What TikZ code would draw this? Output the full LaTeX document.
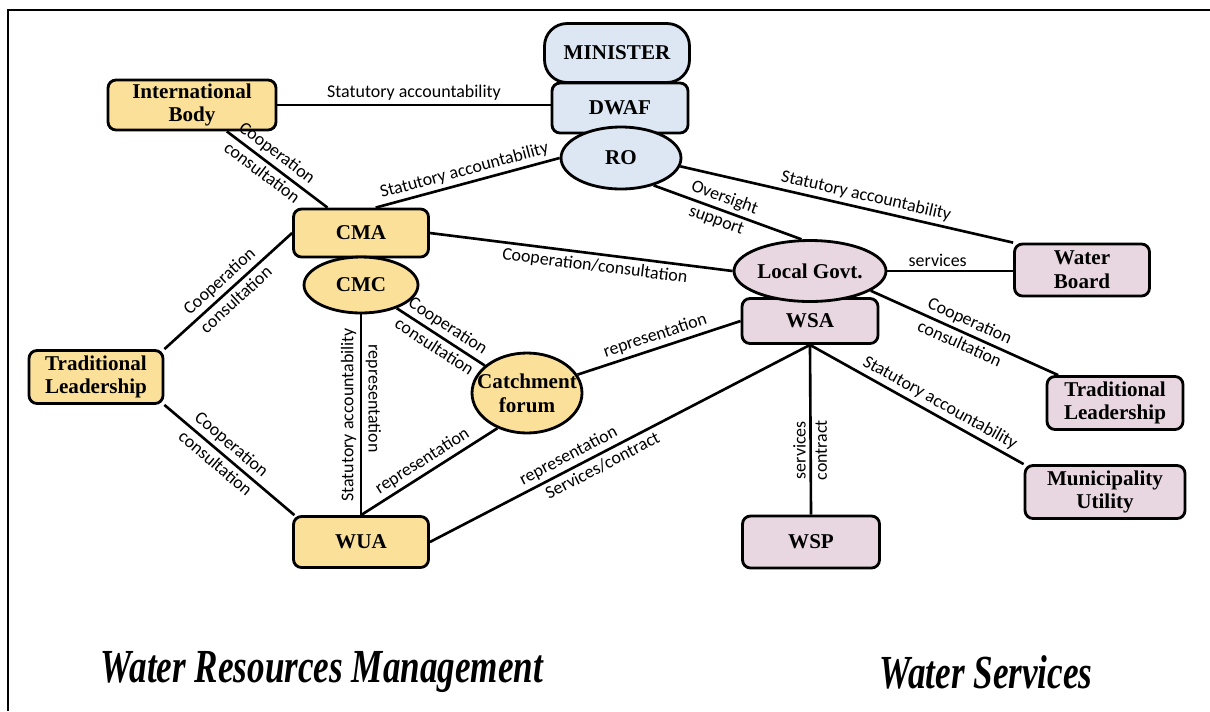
\documentclass[tikz,border=0pt]{standalone}
\usepackage{graphicx}
\usepackage{fontspec}
\setmainfont{Liberation Serif}
\newfontfamily\lblfont{Carlito}
\usetikzlibrary{shapes.geometric}
\definecolor{wyellow}{RGB}{250,224,152}
\definecolor{wblue}{RGB}{220,231,243}
\definecolor{wpink}{RGB}{232,215,225}

\begin{document}
\begin{tikzpicture}[x=0.02cm,y=-0.02cm,
  box/.style={rectangle,rounded corners=0.16cm,draw,line width=1.6pt,inner sep=1pt,align=center,
    font=\fontsize{12}{13.5}\selectfont\bfseries},
  ell/.style={ellipse,draw,line width=1.6pt,inner sep=0pt,align=center,
    font=\fontsize{12}{13.5}\selectfont\bfseries},
  yf/.style={fill=wyellow},
  bf/.style={fill=wblue},
  pf/.style={fill=wpink},
  ln/.style={line width=1.5pt},
  lbl/.style={font=\lblfont\fontsize{10.2}{11.5}\selectfont,inner sep=2pt},
  ttl/.style={font=\fontsize{27}{27}\selectfont\bfseries\itshape},
]
\useasboundingbox (0,0) rectangle (1210,711);
\draw[line width=1.7pt] (1210,10) -- (8,10) -- (8,711);

% ---------------- ministry (blue) ----------------
\node[box,bf,rounded corners=0.45cm,minimum width=2.9cm,minimum height=1.18cm] (min) at (617,53) {MINISTER};
\node[box,bf,minimum width=2.72cm,minimum height=1.0cm] (dwaf) at (620,108) {DWAF};
\node[ell,bf,minimum width=2.4cm,minimum height=1.24cm] (ro) at (621,158) {RO};

% ---------------- water resources (yellow) ----------------
\node[box,yf,minimum width=3.36cm,minimum height=1.0cm] (ib) at (192,105) {International\\Body};
\node[box,yf,minimum width=2.7cm,minimum height=0.96cm] (cma) at (361,233) {CMA};
\node[ell,yf,minimum width=2.28cm,minimum height=1.12cm] (cmc) at (361,285) {CMC};
\node[box,yf,minimum width=2.68cm,minimum height=1.06cm] (tll) at (96,377) {Traditional\\Leadership};
\node[ell,yf,minimum width=2.2cm,minimum height=1.6cm] (cf) at (527,393) {\makebox[0pt]{Catchment}\\\makebox[0pt]{forum}};
\node[box,yf,minimum width=2.7cm,minimum height=1.02cm] (wua) at (361,542) {WUA};

% ---------------- water services (pink) ----------------
\node[box,pf,minimum width=2.72cm,minimum height=0.9cm] (wsa) at (810,321) {WSA};
\node[ell,pf,minimum width=3.04cm,minimum height=1.22cm] (lg) at (810,271) {Local Govt.};
\node[box,pf,minimum width=2.7cm,minimum height=1.04cm] (wb) at (1082,270) {Water\\Board};
\node[box,pf,minimum width=2.72cm,minimum height=1.06cm] (tlr) at (1115,403) {Traditional\\Leadership};
\node[box,pf,minimum width=3.2cm,minimum height=1.06cm] (muni) at (1105,492) {Municipality\\Utility};
\node[box,pf,minimum width=2.74cm,minimum height=1.04cm] (wsp) at (811,542) {WSP};

% ---------------- links ----------------
\draw[ln] (ib.east) -- (ib.east -| dwaf.west) node[lbl,midway,above] {Statutory accountability};
\draw[ln] (ib) -- (cma) node[lbl,sloped,pos=0.42,above] {Cooperation} node[lbl,sloped,pos=0.42,below] {consultation};
\draw[ln] (cma.60) -- (ro.west) node[lbl,sloped,midway,above] {Statutory accountability};
\draw[ln] (ro.-8) -- (wb.north west) node[lbl,sloped,pos=0.55,above] {Statutory accountability};
\draw[ln] (ro.-40) -- (lg.105) node[lbl,sloped,pos=0.45,above] {Oversight} node[lbl,sloped,pos=0.45,below] {support};
\draw[ln] (cma.east) -- (lg.west) node[lbl,sloped,pos=0.55,below] {Cooperation/consultation};
\draw[ln] (lg.east) -- (lg.east -| wb.west) node[lbl,pos=0.4,above] {services};
\draw[ln] (lg.-18) -- ([xshift=0.25cm]tlr.north west) node[lbl,sloped,midway,above] {Cooperation} node[lbl,sloped,midway,below] {consultation};
\draw[ln] (tll.north east) -- (cma.west) node[lbl,sloped,midway,above] {Cooperation} node[lbl,sloped,midway,below] {consultation};
\draw[ln] (tll.south east) -- (wua.158) node[lbl,sloped,pos=0.45,above] {Cooperation} node[lbl,sloped,pos=0.45,below] {consultation};
\draw[ln] (cmc) -- (wua)
  node[lbl,midway,rotate=90,anchor=south] {Statutory accountability}
  node[lbl,sloped,pos=0.42,above] {representation};
\draw[ln] (cmc) -- (cf) node[lbl,sloped,midway,above] {Cooperation} node[lbl,sloped,midway,below] {consultation};
\draw[ln] (wua.north) -- (cf.230) node[lbl,sloped,midway,above] {representation};
\draw[ln] (cf.20) -- (wsa.west) node[lbl,sloped,midway,above] {representation};
\draw[ln] (wua.east) -- (wsa.south) node[lbl,sloped,pos=0.38,above] {representation} node[lbl,sloped,pos=0.44,below] {Services/contract};
\draw[ln] (wsa.south) -- (wsp.north)
  node[lbl,pos=0.62,rotate=90,anchor=south] {services}
  node[lbl,pos=0.62,rotate=90,anchor=north] {contract};
\draw[ln] (wsa.south) -- (muni.north west) node[lbl,sloped,pos=0.58,above] {Statutory accountability};

% ---------------- titles ----------------
\node[ttl] (wrm) at (322,672) {\scalebox{0.74}[1]{Water Resources Management}};
\node[ttl] (ws) at (986,672) {\scalebox{0.74}[1]{Water Services}};
\end{tikzpicture}
\end{document}
